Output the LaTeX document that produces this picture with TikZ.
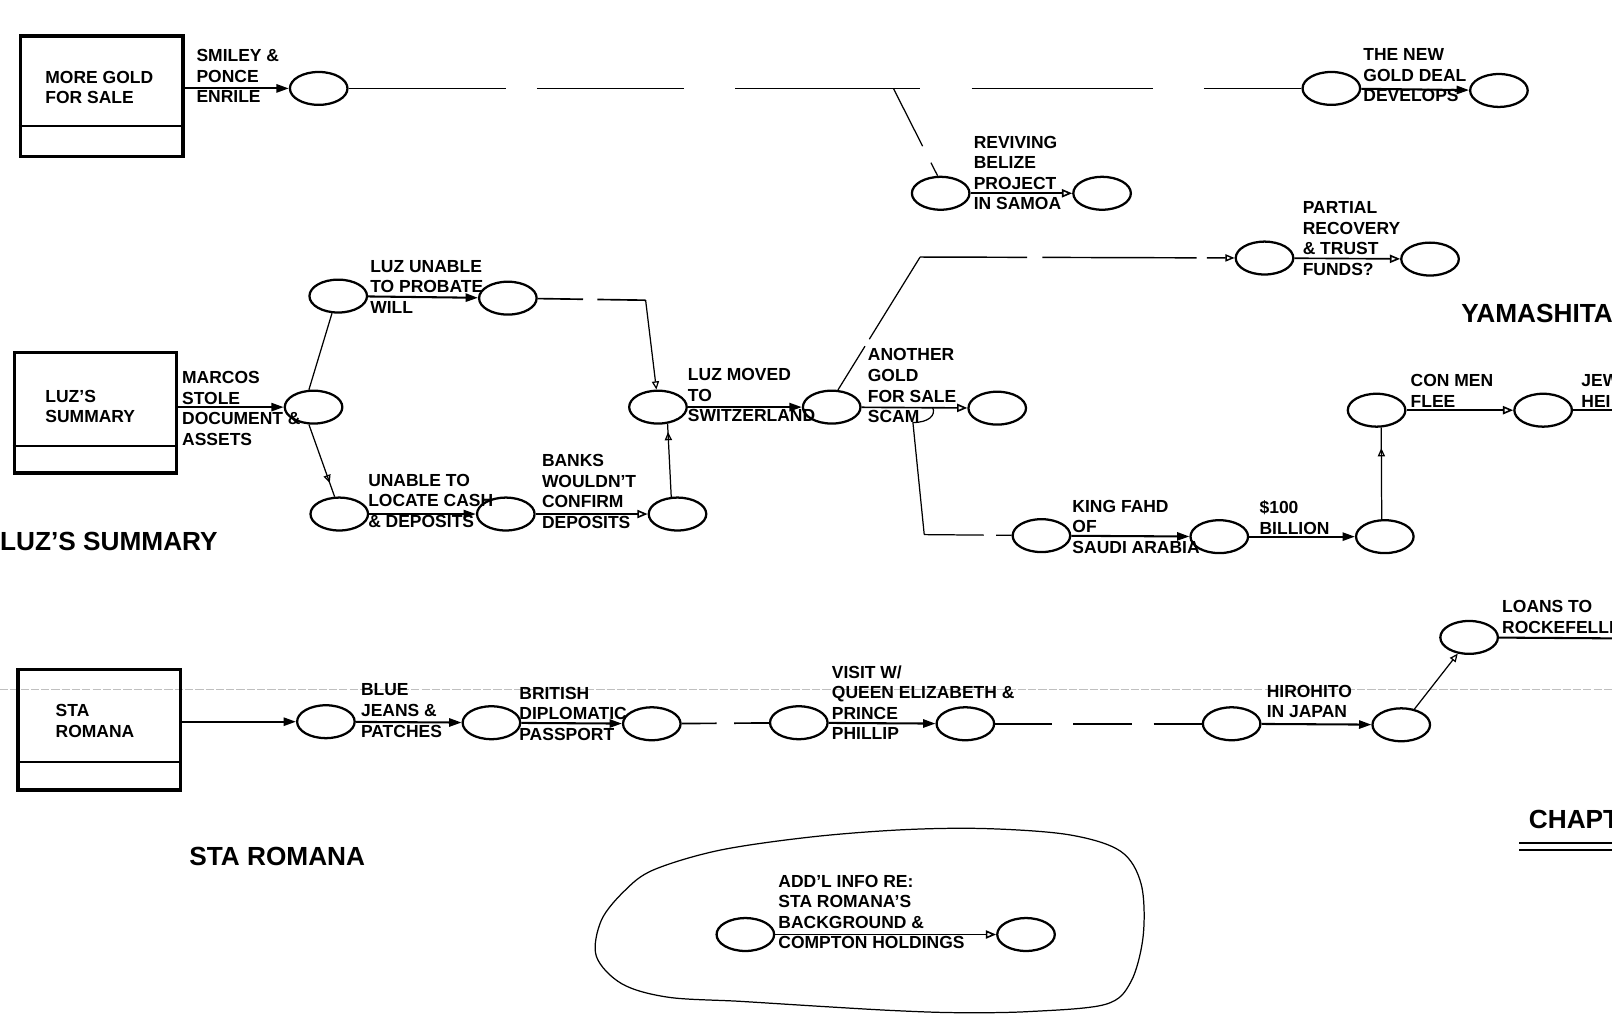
\documentclass[tikz,border=0pt]{standalone}
\usepackage{fontspec}
\setmainfont{Liberation Sans}
\usetikzlibrary{shapes.geometric,arrows.meta,decorations.markings}

\newcommand{\lblfont}{\bfseries\fontsize{17}{20}\selectfont}
\newcommand{\ttlfont}{\bfseries\fontsize{25.5}{30}\selectfont}

\begin{document}
\begin{tikzpicture}[x=1pt,y=-1pt,
  evt/.style={draw,ellipse,line width=2.2pt,minimum width=56pt,minimum height=32pt,inner sep=0pt},
  chapbox/.style={draw,line width=3.2pt,minimum width=158pt,minimum height=117pt,inner sep=0pt},
  lbl/.style={anchor=north west,inner sep=0pt,align=left,font=\lblfont},
  ttl/.style={anchor=north west,inner sep=0pt,font=\ttlfont},
  link/.style={line width=2pt,-{Triangle[length=12pt,width=8pt]}},
  openlink/.style={line width=1.6pt,-{Triangle[open,length=10pt,width=8pt]}},
  thinline/.style={line width=1.2pt},
  openthin/.style={line width=1.2pt,-{Triangle[open,length=8pt,width=7pt]}},
  tipat/.style={postaction={decorate},decoration={markings,mark=at position #1 with {\arrow{Triangle[open,length=8pt,width=7pt]}}}}
]
\useasboundingbox (0,0) rectangle (1568,988);

\draw[gray!50,line width=0.6pt,dash pattern=on 8pt off 2pt] (0,670) -- (1568,670);

\node[chapbox] (boxgold) at (99,93.5) {};
\draw[line width=2pt] ([yshift=31pt]boxgold.south west) -- ([yshift=31pt]boxgold.south east);
\node[lbl] (tgold) at (44,69) {MORE GOLD\\FOR SALE};

\node[evt] (mg1) at (310,86) {};
\node[evt] (mg2) at (1295,86) {};
\node[evt] (mg3) at (1458,88) {};
\node[evt] (bz1) at (915,188) {};
\node[evt] (bz2) at (1072,188) {};
\coordinate (fork1) at (869,86);

\draw[link] (boxgold.east |- mg1) -- (mg1);
\draw[line width=1.6pt,dash pattern=on 153pt off 30pt on 143pt off 50pt on 180pt off 50pt on 176pt off 50pt on 200pt] (mg1) -- (mg2);
\draw[link] (mg2) -- (mg3);
\draw[thinline,dash pattern=on 63pt off 18pt on 40pt] (fork1) -- (bz1.100);
\draw[openlink] (bz1) -- (bz2);

\node[lbl] (lsmiley) at (191,48) {SMILEY \&\\PONCE\\ENRILE};
\node[lbl] (lnewdeal) at (1326,47) {THE NEW\\GOLD DEAL\\DEVELOPS};
\node[lbl] (lbelize) at (947,132) {REVIVING\\BELIZE\\PROJECT\\IN SAMOA};

\node[chapbox] (boxluz) at (93,401.5) {};
\draw[line width=2pt] ([yshift=28pt]boxluz.south west) -- ([yshift=28pt]boxluz.south east);
\node[lbl] (tluz) at (44,379) {LUZ'S\\SUMMARY};

\node[evt] (lzA) at (305,396) {};
\node[evt] (lzB) at (329,288) {};
\node[evt] (lzB2) at (494,290) {};
\node[evt] (lzC) at (330,500) {};
\node[evt] (lzD) at (492,500) {};
\node[evt] (lzE) at (659,500) {};
\node[evt] (lzF) at (640,396) {};
\node[evt] (lzG) at (809,396) {};
\node[evt] (lzH) at (970,397) {};
\node[evt] (pr1) at (1230,251) {};
\node[evt] (pr2) at (1391,252) {};
\node[evt] (kf1) at (1013,521) {};
\node[evt] (kf2) at (1186,522) {};
\node[evt] (kf3) at (1347,522) {};
\node[evt] (cm1) at (1339,399) {};
\node[evt] (cm2) at (1501,399) {};
\coordinate (bend1) at (628,292);
\coordinate (turnP) at (895,250);
\coordinate (scamfork) at (907,396);
\coordinate (scamdown) at (899,520);
\coordinate (jewend) at (1580,399);

\draw[link] (boxluz.east |- lzA) -- (lzA);
\draw[thinline] (lzA.105) -- (lzB.250);
\draw[thinline,tipat=-14pt] (lzA.255) -- (lzC.105);
\draw[link] (lzB) -- (lzB2);
\draw[line width=1.6pt,dash pattern=on 44pt off 14pt on 80pt] (lzB2) -- (bend1);
\draw[openthin] (bend1) -- (lzF.95);
\draw[link] (lzC) -- (lzD);
\draw[openlink] (lzD) -- (lzE);
\draw[thinline,tipat=-8pt] (lzE.110) -- (lzF.300);
\draw[link] (lzF) -- (lzG);
\draw[openlink] (lzG) -- (lzH);
\draw[thinline,dash pattern=on 50pt off 8pt on 200pt] (lzG.70) -- (turnP);
\draw[line width=1.4pt,dash pattern=on 104pt off 15pt on 150pt off 10pt on 60pt,-{Triangle[open,length=9pt,width=7pt]}] (turnP) -- (pr1);
\draw[openlink] (pr1) -- (pr2);
\draw[thinline] (scamfork) .. controls (911,404) and (903,411) .. (888,411) -- (scamdown);
\draw[thinline,dash pattern=on 58pt off 12pt on 40pt] (scamdown) -- (kf1);
\draw[link] (kf1) -- (kf2);
\draw[link] (kf2) -- (kf3);
\draw[thinline,tipat=-20pt] (kf3.100) -- (cm1.285);
\draw[openlink] (cm1) -- (cm2);
\draw[line width=2pt] (cm2) -- (jewend);

\node[lbl] (lprobate) at (360,253) {LUZ UNABLE\\TO PROBATE\\WILL};
\node[lbl] (lmarcos) at (177,361) {MARCOS\\STOLE\\DOCUMENT \&\\ASSETS};
\node[lbl] (llocate) at (358,461) {UNABLE TO\\LOCATE CASH\\\& DEPOSITS};
\node[lbl] (lbanks) at (527,442) {BANKS\\WOULDN'T\\CONFIRM\\DEPOSITS};
\node[lbl] (lmoved) at (669,358) {LUZ MOVED\\TO\\SWITZERLAND};
\node[lbl] (lscam) at (844,339) {ANOTHER\\GOLD\\FOR SALE\\SCAM};
\node[lbl] (lpartial) at (1267,196) {PARTIAL\\RECOVERY\\\& TRUST\\FUNDS?};
\node[lbl] (lfahd) at (1043,486) {KING FAHD\\OF\\SAUDI ARABIA};
\node[lbl] (lbillion) at (1225,487) {\$100\\BILLION};
\node[lbl] (lconmen) at (1372,364) {CON MEN\\FLEE};
\node[lbl] (ljew) at (1538,364) {JEW\\HEI};

\node[chapbox] (boxsta) at (96.5,710) {};
\draw[line width=2pt] ([yshift=29pt]boxsta.south west) -- ([yshift=29pt]boxsta.south east);
\node[lbl] (tsta) at (54,685) {STA\\ROMANA};

\node[evt] (sr1) at (317,702) {};
\node[evt] (sr2) at (478,703) {};
\node[evt] (sr3) at (634,704) {};
\node[evt] (sr4) at (777,703) {};
\node[evt] (sr5) at (939,704) {};
\node[evt] (sr6) at (1198,704) {};
\node[evt] (sr7) at (1363,705) {};
\node[evt] (ln1) at (1429,620) {};
\coordinate (rockend) at (1580,621);

\draw[link] (boxsta.east |- sr1) -- (sr1);
\draw[link] (sr1) -- (sr2);
\draw[link] (sr2) -- (sr3);
\draw[line width=1.6pt,dash pattern=on 34pt off 17pt on 60pt] (sr3) -- (sr4);
\draw[link] (sr4) -- (sr5);
\draw[line width=1.6pt,dash pattern=on 55pt off 21pt on 57pt off 21pt on 60pt] (sr5) -- (sr6);
\draw[link] (sr6) -- (sr7);
\draw[openthin] (sr7.50) -- (ln1.235);
\draw[line width=2pt] (ln1) -- (rockend);

\node[lbl] (lblue) at (351,665) {BLUE\\JEANS \&\\PATCHES};
\node[lbl] (lbritish) at (505,668) {BRITISH\\DIPLOMATIC\\PASSPORT};
\node[lbl] (lqueen) at (809,647) {VISIT W/\\QUEEN ELIZABETH \&\\PRINCE\\PHILLIP};
\node[lbl] (lhirohito) at (1232,666) {HIROHITO\\IN JAPAN};
\node[lbl] (lloans) at (1461,584) {LOANS TO\\ROCKEFELLE};

\draw[thinline] plot[smooth cycle,tension=0.55] coordinates {(636,846) (700,827) (790,814) (880,807) (960,806) (1040,812) (1090,828) (1110,860) (1112,910) (1100,955) (1075,977) (1000,984) (930,985) (870,983) (800,979) (720,974) (650,970) (605,957) (580,930) (585,895) (608,866)};
\node[evt] (ad1) at (725,909) {};
\node[evt] (ad2) at (998,909) {};
\draw[openlink] (ad1) -- (ad2);
\node[lbl] (laddl) at (757,851) {ADD'L INFO RE:\\STA ROMANA'S\\BACKGROUND \&\\COMPTON HOLDINGS};

\node[ttl] (hluz) at (0,517) {LUZ'S SUMMARY};
\node[ttl] (hsta) at (184,824) {STA ROMANA};
\node[ttl,anchor=north east] (hyama) at (1569,296) {YAMASHITA};
\node[ttl] (hchapt) at (1487,788) {CHAPT};
\draw[line width=1.8pt] (1478,820) -- (1580,820);
\draw[line width=1.8pt] (1478,827) -- (1580,827);
\end{tikzpicture}
\end{document}
